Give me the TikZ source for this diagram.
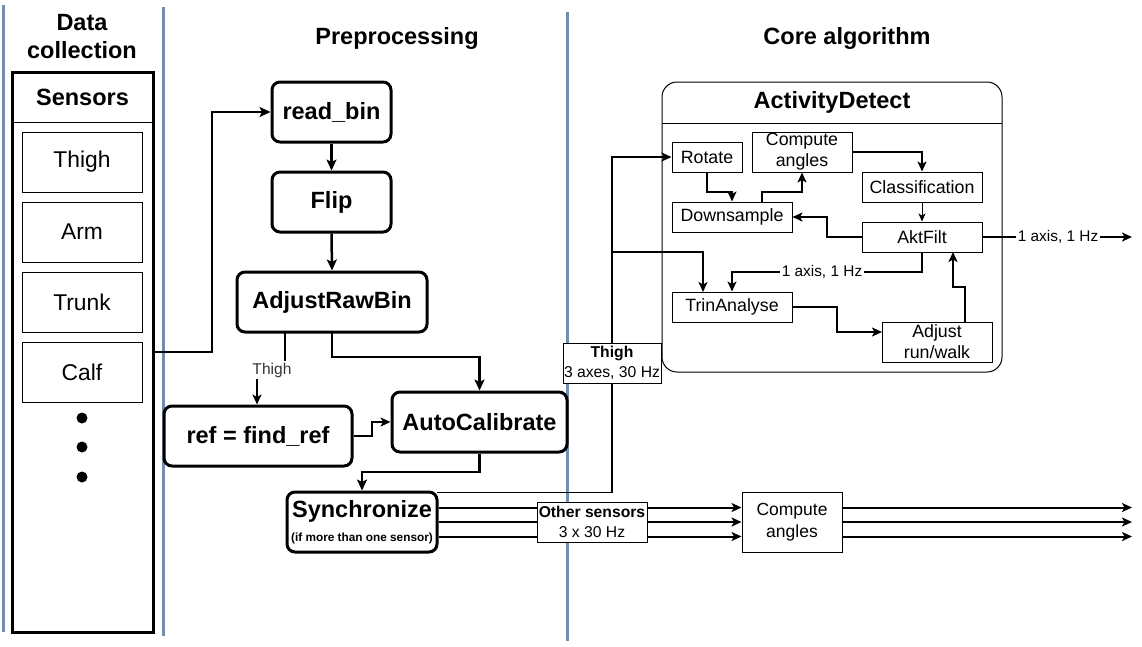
\documentclass[tikz,border=0pt]{standalone}
\usepackage{fontspec}
\setmainfont{Liberation Sans}
\usetikzlibrary{arrows.meta,calc}
\definecolor{sepblue}{HTML}{6C8EBF}
\tikzset{
  big/.style={font=\bfseries\fontsize{23.5}{28}\selectfont},
  pbox/.style={draw, rounded corners=8pt, line width=3pt, inner sep=0pt, align=center, big},
  sitem/.style={draw, line width=1pt, minimum width=120pt, minimum height=60pt, inner sep=0pt, font=\fontsize{22.8}{26}\selectfont},
  ibox/.style={draw, line width=1pt, inner sep=0pt, align=center, font=\fontsize{17.8}{21}\selectfont},
  marr/.style={-{Stealth[length=11pt,width=10pt,inset=2.5pt]}, line width=2.5pt},
  tarr/.style={-{Stealth[length=10pt,width=9pt,inset=2.5pt]}, line width=1.6pt},
  iarr/.style={-{Stealth[length=10pt,width=9pt,inset=2.5pt]}, line width=2pt},
  thin/.style={-{Stealth[length=8pt,width=7pt,inset=2pt]}, line width=1pt},
  elbl/.style={fill=white, inner sep=1.5pt, font=\fontsize{15.4}{18}\selectfont},
  lblbox/.style={draw, fill=white, line width=1pt, inner sep=0pt, align=center, font=\fontsize{15.7}{20}\selectfont},
  sepline/.style={draw=sepblue, line width=3pt},
}
\begin{document}
\begin{tikzpicture}[x=1pt,y=-1pt]
\useasboundingbox (0,0) rectangle (1142,646);
% separators
\draw[sepline] (3,5) -- (3,632);
\draw[sepline] (163,7) -- (163,636);
\draw[sepline] (567,12) -- (567,641);
% titles
\node[big, align=center] (tdc) at (82,37) {Data\\collection};
\node[big] (tpre) at (397,38) {Preprocessing};
\node[big] (tcore) at (847,38) {Core algorithm};
% sensors container
\node[draw, line width=3pt, minimum width=141pt, minimum height=560pt, inner sep=0pt] (sens) at (82.5,352) {};
\draw[line width=1pt] (12,122) -- (153,122);
\node[big] (senst) at (82.5,97) {Sensors};
\node[sitem] (s1) at (82,162) {Thigh};
\node[sitem] (s2) at (82,232) {Arm};
\node[sitem] (s3) at (82,302) {Trunk};
\node[sitem] (s4) at (82,372) {Calf};
\fill (82,418) circle (5.5pt);
\fill (82,447) circle (5.5pt);
\fill (82,477) circle (5.5pt);
% preprocessing
\node[pbox, minimum width=119pt, minimum height=60pt] (rb) at (331.5,112) {read\_bin};
\node[pbox, minimum width=119pt, minimum height=60pt] (fl) at (331.5,202) {Flip};
\node[pbox, minimum width=190pt, minimum height=60pt] (arb) at (332,302) {AdjustRawBin};
\node[pbox, minimum width=188pt, minimum height=60pt] (ref) at (258,436) {ref = find\_ref};
\node[pbox, minimum width=175pt, minimum height=60pt] (ac) at (479.5,422) {AutoCalibrate};
\node[pbox, minimum width=150pt, minimum height=60pt] (sy) at (362,522) {Synchronize\\[-4pt]{\fontsize{11.8}{13}\selectfont (if more than one sensor)}};
\coordinate (sout) at (153,352);
\draw[marr] (sout) -- (212,352) |- (rb.west);
\draw[marr] (rb.south) -- (fl.north);
\draw[marr] (fl.south) -- (arb.north);
\draw[tarr] (285,332) -- (285,370) -- (257,370) -- (ref.north -| 257,0);
\node[elbl, font=\fontsize{15.6}{18}\selectfont, text=black!80] (thl) at (272,370) {Thigh};
\draw[marr] (332,332) -- (332,357) -| (ac.north);
\draw[tarr, line width=2pt] (ref.east) -- (372,436) |- (ac.west);
\draw[marr] (ac.south) -- (479.5,472) -| (sy.north);
% core
\draw[line width=1pt, rounded corners=15pt] (662,82) rectangle (1002,372);
\draw[line width=1pt] (662,123) -- (1002,123);
\node[big] (adt) at (832,102) {ActivityDetect};
\node[ibox, minimum width=70pt, minimum height=30pt] (rot) at (707,157) {Rotate};
\node[ibox, minimum width=100pt, minimum height=40pt] (ca) at (802,152) {Compute\\angles};
\node[ibox, minimum width=120pt, minimum height=30pt] (cls) at (922,187) {Classification};
\node[ibox, minimum width=120pt, minimum height=30pt] (ds) at (732,217) {Downsample};
\node[ibox, minimum width=120pt, minimum height=30pt] (akt) at (922,237) {AktFilt};
\node[ibox, minimum width=120pt, minimum height=30pt] (trin) at (732,307) {TrinAnalyse};
\node[ibox, minimum width=110pt, minimum height=40pt] (arw) at (937,342) {Adjust\\run/walk};
\draw[iarr] (rot.south) -- (707,192) -| (ds.north);
\draw[iarr] (762,202) -- (762,192) -| (ca.south);
\draw[iarr] (ca.east) -| (cls.north);
\draw[thin] (cls.south) -- (akt.north);
\draw[iarr] (akt.west) -- (827,237) |- (ds.east);
\draw[iarr] (akt.south) -- (922,272) -| (trin.north);
\node[elbl] (l1) at (822,272) {1 axis, 1 Hz};
\draw[iarr] (trin.east) -- (837,307) |- (882,332);
\draw[iarr] (965,322) -- (965,287) -- (953,287) -- (953,252);
\coordinate (aout) at (1132,237);
\draw[iarr] (akt.east) -- (aout);
\node[elbl] (l2) at (1058,237) {1 axis, 1 Hz};
% thigh path
\coordinate (tj) at (612,252);
\draw[tarr] (437,492.5) -- (612,492.5) -- (tj) |- (rot.west);
\draw[tarr] (tj) -- (703,252) -- (703,292);
\node[lblbox, minimum width=98pt, minimum height=40pt] (thlab) at (612,363) {\textbf{Thigh}\\3 axes, 30 Hz};
% other sensors
\node[ibox, minimum width=100pt, minimum height=60pt, font=\fontsize{17.5}{22}\selectfont] (ca2) at (792,522) {Compute\\angles};
\foreach \yy in {507.5,522,536.5}{
  \draw[iarr] (sy.east |- 0,\yy) -- (ca2.west |- 0,\yy);
  \draw[iarr] (ca2.east |- 0,\yy) -- (1132,\yy);
}
\node[lblbox, minimum width=110pt, minimum height=40pt] (oslab) at (592,522) {\textbf{Other sensors}\\3 x 30 Hz};
\end{tikzpicture}
\end{document}
